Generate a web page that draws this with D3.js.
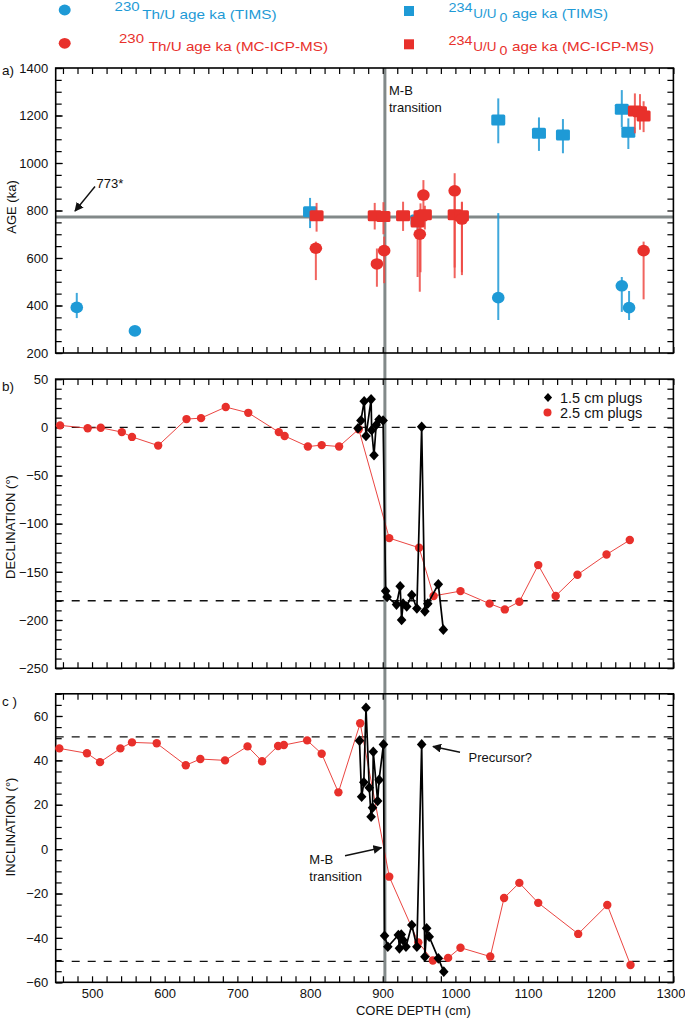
<!DOCTYPE html>
<html><head><meta charset="utf-8">
<script src="https://cdn.jsdelivr.net/npm/d3@7"></script>
<style>body{margin:0;background:#fff} svg{display:block} text{font-family:"Liberation Sans",Arial,Helvetica,sans-serif}</style>
</head><body><svg id="chart" width="685" height="1026"></svg>
<script>
// ---------- DATA ----------
const depthDomain = [450, 1300];
const xTickLabels = [500, 600, 700, 800, 900, 1000, 1100, 1200, 1300];
const ageTicks = [200, 400, 600, 800, 1000, 1200, 1400];
const decTicks = [-250, -200, -150, -100, -50, 0, 50];
const incTicks = [-60, -40, -20, 0, 20, 40, 60];

// panel a : [depth cm, age ka, lower ka, upper ka]
const thUTims = [[479,392,347,453],[559,293,280,310],[1059,433,339,789],[1229,483,373,520],[1239,391,339,461]];
const uU0Tims = [[800,795,726,853],[948,760,720,800],[1059,1181,1083,1272],[1115,1125,1051,1192],[1148,1118,1041,1185],[1229,1226,1150,1307],[1238,1129,1059,1188]];
const thUMc = [[808,641,507,669],[892,575,479,640],[902,631,494,690],[951,700,458,760],[956,865,800,928],[999,883,515,957],[1009,764,528,837],[1259,631,426,669]];
const uU0Mc = [[809,778,711,832],[889,778,720,832],[901,775,700,835],[928,778,714,837],[948,752,520,800],[952,778,540,830],[958,782,720,820],[999,782,560,860],[1009,778,540,835],[1247,1219,1125,1293],[1254,1216,1140,1290],[1259,1198,1130,1260]];
const mbDepth = 903;
const refAge = 773;

// panel b : declination
const decLargeDepth = [456,494,512,541,555,591,630,650,684,715,757,765,797,816,840,867,909,950,970,1007,1047,1068,1088,1114,1138,1168,1208,1240];
const decLargeVal   = [2,-1,-0.5,-5,-10,-19,8.5,9.5,21,15,-5,-9,-20,-18.5,-20,-2,-115,-125,-175,-170,-183,-189,-181,-143,-175,-153,-132,-117];
const decSmallDepth = [866,870,874.5,877,884,884.8,888,891,895,900.5,904,906,919,924,926,928,933,940,947,953.6,958,962,976.5,983.4];
const decSmallVal   = [-1,7,27,-9,29,-3,-29,2.4,8,7,-170,-176,-184,-165,-200,-183,-186,-174,-188,0.6,-191,-183,-163,-210];
const decRefs = [0, -180];

// panel c : inclination
const incLargeDepth = [455,493,511,539,555,589,629,649,683,714,734,756,764,796,816,839,869,909,949,969,990,1007,1048,1067,1088,1114,1169,1209,1241];
const incLargeVal   = [45.4,43.2,39.2,45.4,48.1,47.7,37.8,40.6,40,46.3,39.6,46.5,46.9,49,43,25.6,56.7,-12.4,-42,-50.2,-49,-44.4,-48.4,-22,-15.2,-24.2,-38.2,-25.2,-52.2];
const incSmallDepth = [868,871,874,877,881.5,884,886,887,893,895,901,902.5,907,921.5,923,925.5,928,932,940,947,953.6,958,960.5,964,976.5,984];
const incSmallVal   = [48.9,23.6,30.1,63.7,27.7,14.6,18.7,43.9,21.7,31.2,47.2,-39,-44,-38.7,-44.7,-38.5,-41,-44,-34.2,-44,47.2,-48.5,-35.7,-39.5,-49.2,-55.2];
const incRefs = [50.6, -50.6];

// ---------- LAYOUT ----------
const BLUE = "#1e9ad6", RED = "#e8302b", GRAY = "#828989";
const svg = d3.select("#chart");
const xL = 55.7, xR = 673.4;
const x = d3.scaleLinear().domain(depthDomain).range([xL, xR]);
const yA = d3.scaleLinear().domain([200, 1400]).range([353, 68]);
const yB = d3.scaleLinear().domain([-250, 50]).range([668.2, 379.1]);
const yC = d3.scaleLinear().domain([-60, 70]).range([982.3, 693.8]);

const xMinor = d3.range(460, 1301, 20);

function axes(y, yMajor, yMinorStep, showX) {
  const [y0, y1] = y.range(); // bottom, top
  const dom = y.domain();
  const yMinor = d3.range(dom[0], dom[1] + 0.001, yMinorStep);
  const g = svg.append("g");
  const mk = (ax) => ax.tickSizeOuter(0);
  g.append("g").attr("transform", `translate(${xL},0)`)
    .call(mk(d3.axisLeft(y).tickValues(yMinor).tickSize(-6).tickFormat("")));
  g.append("g").attr("class","lbl").attr("transform", `translate(${xL},0)`)
    .call(mk(d3.axisLeft(y).tickValues(yMajor).tickSize(-7).tickPadding(7.5).tickFormat(d3.format("d"))));
  g.append("g").attr("transform", `translate(${xR},0)`)
    .call(mk(d3.axisRight(y).tickValues(yMinor).tickSize(-6).tickFormat("")));
  g.append("g").attr("transform", `translate(0,${y1})`)
    .call(mk(d3.axisTop(x).tickValues(xMinor).tickSize(-6).tickFormat("")));
  const bx = d3.axisBottom(x).tickSize(-6).tickPadding(6.5).tickValues(xMinor);
  if (showX) bx.tickFormat(d => xTickLabels.includes(d) ? d : "");
  else bx.tickFormat("");
  const bg = g.append("g").attr("class","lbl").attr("transform", `translate(0,${y0})`).call(mk(bx));
  if (showX) bg.selectAll(".tick text").filter(d => d === 1300).attr("dx", -3);
  g.selectAll(".domain").remove();
  g.selectAll(".tick line").attr("stroke", "#000").attr("stroke-width", 1.2);
  g.selectAll(".lbl text").attr("font-size", 13).attr("fill", "#111")
    .attr("font-family", "'Liberation Sans',Arial,sans-serif");
  g.append("rect").attr("x", xL).attr("y", y1).attr("width", xR - xL).attr("height", y0 - y1)
    .attr("fill", "none").attr("stroke", "#000").attr("stroke-width", 1.6);
}

// gray reference lines (behind)
svg.append("line").attr("x1", x(mbDepth)).attr("x2", x(mbDepth)).attr("y1", yA.range()[1]).attr("y2", yC.range()[0])
  .attr("stroke", GRAY).attr("stroke-width", 3);
svg.append("line").attr("x1", xL).attr("x2", xR).attr("y1", yA(refAge)).attr("y2", yA(refAge))
  .attr("stroke", GRAY).attr("stroke-width", 3);

function dashed(y, vals) {
  svg.selectAll(null).data(vals).enter().append("line")
    .attr("x1", xL).attr("x2", xR).attr("y1", d => y(d)).attr("y2", d => y(d))
    .attr("stroke", "#111").attr("stroke-width", 1.3).attr("stroke-dasharray", "8,8");
}
dashed(yB, decRefs);
dashed(yC, incRefs);

axes(yA, ageTicks, 50, false);
axes(yB, decTicks, 10, false);
axes(yC, incTicks, 5, true);

// ---------- PANEL A ----------
function errBars(data, color) {
  svg.append("g").selectAll("line").data(data).enter().append("line")
    .attr("x1", d => x(d[0])).attr("x2", d => x(d[0]))
    .attr("y1", d => yA(d[2])).attr("y2", d => yA(d[3]))
    .attr("stroke", color).attr("stroke-width", 2).attr("opacity", 0.85);
}
function circles(data, color) {
  svg.append("g").selectAll("ellipse").data(data).enter().append("ellipse")
    .attr("cx", d => x(d[0])).attr("cy", d => yA(d[1])).attr("rx", 6.3).attr("ry", 5.8).attr("fill", color);
}
function squares(data, color) {
  svg.append("g").selectAll("rect").data(data).enter().append("rect")
    .attr("x", d => x(d[0]) - 7).attr("y", d => yA(d[1]) - 5.5).attr("width", 14).attr("height", 11)
    .attr("rx", 1.5).attr("fill", color);
}
errBars(thUTims, BLUE); errBars(uU0Tims, BLUE);
squares(uU0Tims, BLUE); circles(thUTims, BLUE);
errBars(thUMc, "#ef4a44"); errBars(uU0Mc, "#ef4a44");
squares(uU0Mc, RED); circles(thUMc, RED);

const defs = svg.append("defs");
defs.append("marker").attr("id", "ah").attr("viewBox", "0 0 10 10").attr("refX", 9).attr("refY", 5)
  .attr("markerWidth", 9).attr("markerHeight", 9).attr("markerUnits", "userSpaceOnUse").attr("orient", "auto")
  .append("path").attr("d", "M0,0 L10,5 L0,10 z").attr("fill", "#111");
function arrow(x1, y1, x2, y2) {
  svg.append("line").attr("x1", x1).attr("y1", y1).attr("x2", x2).attr("y2", y2)
    .attr("stroke", "#111").attr("stroke-width", 1.4).attr("marker-end", "url(#ah)");
}
function txt(xp, yp, s, size, color, anchor) {
  return svg.append("text").attr("x", xp).attr("y", yp).attr("font-size", size).attr("fill", color || "#111")
    .attr("text-anchor", anchor || "start").text(s);
}
arrow(95, 186.5, 75, 211);
txt(96.5, 188, "773*", 13);
txt(389, 94.5, "M-B", 13);
txt(389, 111.5, "transition", 13);

// ---------- PANELS B, C ----------
const lineGen = (y) => d3.line().x(d => x(d[0])).y(d => y(d[1]));
const decLarge = decLargeDepth.map((d, i) => [d, decLargeVal[i]]);
const decSmall = decSmallDepth.map((d, i) => [d, decSmallVal[i]]);
const incLarge = incLargeDepth.map((d, i) => [d, incLargeVal[i]]);
const incSmall = incSmallDepth.map((d, i) => [d, incSmallVal[i]]);
const diamondPath = "M0,-5.3L4.8,0L0,5.3L-4.8,0Z";

function series(y, large, small) {
  svg.append("path").datum(large).attr("d", lineGen(y)).attr("fill", "none").attr("stroke", RED).attr("stroke-width", 0.9);
  svg.append("g").selectAll("circle").data(large).enter().append("circle")
    .attr("cx", d => x(d[0])).attr("cy", d => y(d[1])).attr("r", 4.2).attr("fill", RED);
  svg.append("path").datum(small).attr("d", lineGen(y)).attr("fill", "none").attr("stroke", "#000").attr("stroke-width", 1.7);
  svg.append("g").selectAll("path").data(small).enter().append("path")
    .attr("transform", d => `translate(${x(d[0])},${y(d[1])})`).attr("d", diamondPath).attr("fill", "#000");
}
series(yB, decLarge, decSmall);
series(yC, incLarge, incSmall);

svg.append("path").attr("transform", "translate(548,397.5) scale(0.85)").attr("d", diamondPath).attr("fill", "#000");
svg.append("circle").attr("cx", 547.5).attr("cy", 412.5).attr("r", 4).attr("fill", RED);
txt(560, 402.5, "1.5 cm plugs", 14.5);
txt(560, 417.5, "2.5 cm plugs", 14.5);

arrow(460, 752.3, 433, 746.5);
txt(468.5, 762, "Precursor?", 13);
arrow(345, 855.7, 381.5, 847.7);
txt(309.3, 864, "M-B", 13);
txt(309.3, 881, "transition", 13);

txt(2, 75, "a)", 13.5);
txt(2, 391, "b)", 13.5);
txt(2, 706, "c )", 13.5);

function vtitle(cx, cy, s) {
  svg.append("text").attr("transform", `translate(${cx},${cy}) rotate(-90)`).attr("text-anchor", "middle")
    .attr("font-size", 13).attr("fill", "#111").text(s);
}
vtitle(16, 207, "AGE (ka)");
vtitle(15, 527, "DECLINATION (°)");
vtitle(15, 827, "INCLINATION (°)");
txt(413.3, 1015, "CORE DEPTH (cm)", 13, "#111", "middle");

// ---------- TOP LEGEND ----------
function stxt(xp, yp, s, size, color, len) {
  return txt(xp, yp, s, size, color).attr("textLength", len).attr("lengthAdjust", "spacingAndGlyphs");
}
const legTh = [[BLUE, 10, 10.5, 18.5, 114.6, 142.2, 134.3, "Th/U age ka (TIMS)"],
               [RED, 43.3, 43.3, 51, 119, 148.7, 179.3, "Th/U age ka (MC-ICP-MS)"]];
legTh.forEach(r => {
  svg.append("ellipse").attr("cx", 64.7).attr("cy", r[1]).attr("rx", 6).attr("ry", 5.4).attr("fill", r[0]);
  stxt(r[4], r[2], "230", 12, r[0], 25);
  stxt(r[5], r[3], r[7], 13.5, r[0], r[6]);
});
const legU = [[BLUE, 11, 11.5, 18, 96, "age ka (TIMS)"],
              [RED, 44.3, 44.5, 51, 142, "age ka (MC-ICP-MS)"]];
legU.forEach(r => {
  svg.append("rect").attr("x", 404).attr("y", r[1] - 5).attr("width", 10).attr("height", 10).attr("fill", r[0]);
  stxt(448.4, r[2], "234", 12, r[0], 24);
  stxt(473.3, r[3], "U/U", 13.5, r[0], 23.2);
  stxt(499.6, r[3] + 4, "0", 12, r[0], 7.9);
  stxt(512, r[3], r[5], 13.5, r[0], r[4]);
});
</script></body></html>
